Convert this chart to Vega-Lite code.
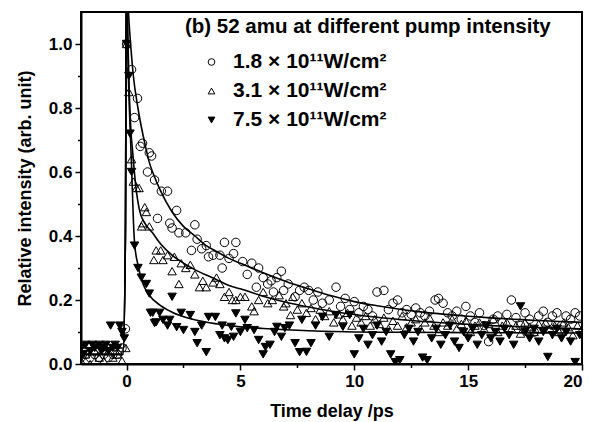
{
  "$schema": "https://vega.github.io/schema/vega-lite/v6.json",
  "width": 501,
  "height": 352,
  "autosize": {"type": "none"},
  "padding": {"left": 81, "top": 12, "right": 8, "bottom": 58},
  "background": "white",
  "config": {
    "view": {"stroke": "black", "strokeWidth": 2},
    "font": "Liberation Sans",
    "legend": {"orient": "none", "legendX": 104, "legendY": 5,
      "titleFont": "Liberation Sans", "titleFontSize": 20.5, "titleFontWeight": "bold", "titleColor": "black", "titleLimit": 600, "titlePadding": 14,
      "labelFont": "Liberation Sans", "labelFontSize": 21, "labelFontWeight": "bold", "labelColor": "black", "labelLimit": 500,
      "symbolSize": 45, "symbolStrokeWidth": 1, "symbolOffset": 16, "labelOffset": 11, "rowPadding": 7}
  },
  "datasets": {
    "pts": [
      {"s":"a","x":-2.0,"y":0.02},{"s":"a","x":-1.8,"y":0.03},{"s":"a","x":-1.6,"y":0.02},{"s":"a","x":-1.4,"y":0.03},{"s":"a","x":-1.2,"y":0.02},{"s":"a","x":-1.0,"y":0.03},{"s":"a","x":-0.8,"y":0.02},{"s":"a","x":-0.6,"y":0.03},{"s":"a","x":-0.4,"y":0.03},{"s":"a","x":-0.2,"y":0.05},{"s":"a","x":-0.05,"y":0.11},
      {"s":"a","x":0.0,"y":1.0},{"s":"a","x":0.22,"y":0.92},{"s":"a","x":0.35,"y":0.77},{"s":"a","x":0.48,"y":0.83},{"s":"a","x":0.6,"y":0.68},{"s":"a","x":0.7,"y":0.69},{"s":"a","x":0.92,"y":0.6},{"s":"a","x":1.0,"y":0.66},{"s":"a","x":1.1,"y":0.65},{"s":"a","x":1.23,"y":0.575},{"s":"a","x":1.36,"y":0.455},{"s":"a","x":1.53,"y":0.54},{"s":"a","x":1.8,"y":0.54},{"s":"a","x":1.9,"y":0.44},{"s":"a","x":2.0,"y":0.425},{"s":"a","x":2.2,"y":0.48},{"s":"a","x":2.3,"y":0.41},{"s":"a","x":2.6,"y":0.41},{"s":"a","x":2.85,"y":0.355},{"s":"a","x":3.0,"y":0.435},{"s":"a","x":3.1,"y":0.39},{"s":"a","x":3.3,"y":0.36},{"s":"a","x":3.5,"y":0.37},{"s":"a","x":3.6,"y":0.335},{"s":"a","x":3.8,"y":0.34},{"s":"a","x":4.1,"y":0.34},{"s":"a","x":4.2,"y":0.3},{"s":"a","x":4.3,"y":0.38},{"s":"a","x":4.5,"y":0.33},{"s":"a","x":4.7,"y":0.345},{"s":"a","x":4.8,"y":0.38},{"s":"a","x":5.1,"y":0.32},{"s":"a","x":5.3,"y":0.28},{"s":"a","x":5.5,"y":0.315},{"s":"a","x":5.7,"y":0.24},{"s":"a","x":5.8,"y":0.3},{"s":"a","x":6.0,"y":0.27},{"s":"a","x":6.2,"y":0.25},{"s":"a","x":6.35,"y":0.26},{"s":"a","x":6.45,"y":0.225},{"s":"a","x":6.6,"y":0.27},{"s":"a","x":6.8,"y":0.29},{"s":"a","x":6.9,"y":0.23},{"s":"a","x":7.1,"y":0.25},{"s":"a","x":7.4,"y":0.21},{"s":"a","x":7.6,"y":0.23},{"s":"a","x":7.8,"y":0.24},{"s":"a","x":8.0,"y":0.23},{"s":"a","x":8.2,"y":0.2},{"s":"a","x":8.4,"y":0.225},{"s":"a","x":8.6,"y":0.19},{"s":"a","x":8.9,"y":0.2},{"s":"a","x":9.2,"y":0.24},{"s":"a","x":9.4,"y":0.18},{"s":"a","x":9.6,"y":0.205},{"s":"a","x":9.8,"y":0.17},{"s":"a","x":10.0,"y":0.195},{"s":"a","x":10.2,"y":0.16},{"s":"a","x":10.4,"y":0.18},{"s":"a","x":10.6,"y":0.17},{"s":"a","x":10.8,"y":0.15},{"s":"a","x":11.0,"y":0.225},{"s":"a","x":11.3,"y":0.23},{"s":"a","x":11.5,"y":0.17},{"s":"a","x":11.7,"y":0.19},{"s":"a","x":11.9,"y":0.2},{"s":"a","x":12.1,"y":0.16},{"s":"a","x":12.3,"y":0.17},{"s":"a","x":12.5,"y":0.155},{"s":"a","x":12.7,"y":0.175},{"s":"a","x":12.9,"y":0.16},{"s":"a","x":13.1,"y":0.15},{"s":"a","x":13.3,"y":0.165},{"s":"a","x":13.55,"y":0.2},{"s":"a","x":13.7,"y":0.205},{"s":"a","x":13.9,"y":0.19},{"s":"a","x":14.1,"y":0.16},{"s":"a","x":14.3,"y":0.15},{"s":"a","x":14.5,"y":0.165},{"s":"a","x":14.7,"y":0.14},{"s":"a","x":14.9,"y":0.18},{"s":"a","x":15.1,"y":0.15},{"s":"a","x":15.3,"y":0.13},{"s":"a","x":15.5,"y":0.16},{"s":"a","x":15.7,"y":0.12},{"s":"a","x":15.9,"y":0.07},{"s":"a","x":16.1,"y":0.14},{"s":"a","x":16.3,"y":0.15},{"s":"a","x":16.5,"y":0.13},{"s":"a","x":16.7,"y":0.155},{"s":"a","x":16.9,"y":0.2},{"s":"a","x":17.1,"y":0.145},{"s":"a","x":17.3,"y":0.12},{"s":"a","x":17.5,"y":0.16},{"s":"a","x":17.7,"y":0.14},{"s":"a","x":17.9,"y":0.1},{"s":"a","x":18.1,"y":0.15},{"s":"a","x":18.3,"y":0.165},{"s":"a","x":18.5,"y":0.13},{"s":"a","x":18.7,"y":0.15},{"s":"a","x":18.9,"y":0.16},{"s":"a","x":19.1,"y":0.12},{"s":"a","x":19.3,"y":0.15},{"s":"a","x":19.5,"y":0.14},{"s":"a","x":19.7,"y":0.16},{"s":"a","x":19.9,"y":0.15},
      {"s":"b","x":-2.0,"y":0.01},{"s":"b","x":-1.8,"y":0.03},{"s":"b","x":-1.6,"y":0.0},{"s":"b","x":-1.4,"y":0.04},{"s":"b","x":-1.2,"y":0.02},{"s":"b","x":-1.0,"y":0.01},{"s":"b","x":-0.8,"y":0.04},{"s":"b","x":-0.6,"y":0.02},{"s":"b","x":-0.4,"y":0.03},{"s":"b","x":-0.2,"y":0.01},{"s":"b","x":-0.03,"y":0.05},
      {"s":"b","x":0.0,"y":1.0},{"s":"b","x":0.1,"y":0.85},{"s":"b","x":0.22,"y":0.64},{"s":"b","x":0.3,"y":0.57},{"s":"b","x":0.44,"y":0.55},{"s":"b","x":0.55,"y":0.55},{"s":"b","x":0.66,"y":0.43},{"s":"b","x":0.72,"y":0.44},{"s":"b","x":0.8,"y":0.49},{"s":"b","x":0.87,"y":0.475},{"s":"b","x":1.0,"y":0.43},{"s":"b","x":1.2,"y":0.325},{"s":"b","x":1.3,"y":0.355},{"s":"b","x":1.5,"y":0.355},{"s":"b","x":1.6,"y":0.325},{"s":"b","x":1.8,"y":0.34},{"s":"b","x":2.0,"y":0.29},{"s":"b","x":2.1,"y":0.335},{"s":"b","x":2.3,"y":0.25},{"s":"b","x":2.4,"y":0.315},{"s":"b","x":2.6,"y":0.3},{"s":"b","x":2.8,"y":0.31},{"s":"b","x":3.0,"y":0.28},{"s":"b","x":3.2,"y":0.24},{"s":"b","x":3.35,"y":0.26},{"s":"b","x":3.5,"y":0.24},{"s":"b","x":3.8,"y":0.255},{"s":"b","x":3.95,"y":0.27},{"s":"b","x":4.1,"y":0.25},{"s":"b","x":4.3,"y":0.21},{"s":"b","x":4.5,"y":0.225},{"s":"b","x":4.65,"y":0.2},{"s":"b","x":4.8,"y":0.2},{"s":"b","x":5.0,"y":0.21},{"s":"b","x":5.2,"y":0.21},{"s":"b","x":5.5,"y":0.18},{"s":"b","x":5.6,"y":0.165},{"s":"b","x":5.8,"y":0.2},{"s":"b","x":6.0,"y":0.225},{"s":"b","x":6.2,"y":0.19},{"s":"b","x":6.4,"y":0.2},{"s":"b","x":6.7,"y":0.215},{"s":"b","x":6.9,"y":0.18},{"s":"b","x":7.0,"y":0.19},{"s":"b","x":7.2,"y":0.153},{"s":"b","x":7.3,"y":0.21},{"s":"b","x":7.5,"y":0.17},{"s":"b","x":7.7,"y":0.19},{"s":"b","x":7.9,"y":0.16},{"s":"b","x":8.1,"y":0.175},{"s":"b","x":8.3,"y":0.14},{"s":"b","x":8.5,"y":0.17},{"s":"b","x":8.7,"y":0.15},{"s":"b","x":8.9,"y":0.165},{"s":"b","x":9.1,"y":0.13},{"s":"b","x":9.3,"y":0.155},{"s":"b","x":9.5,"y":0.14},{"s":"b","x":9.7,"y":0.16},{"s":"b","x":9.9,"y":0.12},{"s":"b","x":10.1,"y":0.145},{"s":"b","x":10.3,"y":0.13},{"s":"b","x":10.5,"y":0.15},{"s":"b","x":10.7,"y":0.12},{"s":"b","x":10.9,"y":0.14},{"s":"b","x":11.1,"y":0.125},{"s":"b","x":11.3,"y":0.145},{"s":"b","x":11.5,"y":0.11},{"s":"b","x":11.7,"y":0.135},{"s":"b","x":11.9,"y":0.12},{"s":"b","x":12.1,"y":0.15},{"s":"b","x":12.3,"y":0.115},{"s":"b","x":12.5,"y":0.13},{"s":"b","x":12.7,"y":0.14},{"s":"b","x":12.9,"y":0.11},{"s":"b","x":13.1,"y":0.13},{"s":"b","x":13.3,"y":0.145},{"s":"b","x":13.5,"y":0.12},{"s":"b","x":13.7,"y":0.1},{"s":"b","x":13.9,"y":0.13},{"s":"b","x":14.1,"y":0.12},{"s":"b","x":14.3,"y":0.14},{"s":"b","x":14.5,"y":0.11},{"s":"b","x":14.7,"y":0.125},{"s":"b","x":14.9,"y":0.135},{"s":"b","x":15.1,"y":0.1},{"s":"b","x":15.3,"y":0.12},{"s":"b","x":15.5,"y":0.13},{"s":"b","x":15.7,"y":0.11},{"s":"b","x":15.9,"y":0.125},{"s":"b","x":16.1,"y":0.14},{"s":"b","x":16.3,"y":0.1},{"s":"b","x":16.5,"y":0.12},{"s":"b","x":16.7,"y":0.13},{"s":"b","x":16.9,"y":0.11},{"s":"b","x":17.1,"y":0.12},{"s":"b","x":17.3,"y":0.095},{"s":"b","x":17.5,"y":0.13},{"s":"b","x":17.7,"y":0.115},{"s":"b","x":17.9,"y":0.1},{"s":"b","x":18.1,"y":0.125},{"s":"b","x":18.4,"y":0.13},{"s":"b","x":18.6,"y":0.11},{"s":"b","x":18.8,"y":0.12},{"s":"b","x":19.0,"y":0.1},{"s":"b","x":19.2,"y":0.13},{"s":"b","x":19.4,"y":0.115},{"s":"b","x":19.6,"y":0.09},{"s":"b","x":19.8,"y":0.12},{"s":"b","x":20.0,"y":0.11},
      {"s":"c","x":-2.0,"y":0.05},{"s":"c","x":-1.9,"y":0.03},{"s":"c","x":-1.8,"y":0.06},{"s":"c","x":-1.6,"y":0.04},{"s":"c","x":-1.5,"y":0.06},{"s":"c","x":-1.4,"y":0.05},{"s":"c","x":-1.2,"y":0.06},{"s":"c","x":-1.1,"y":0.04},{"s":"c","x":-1.0,"y":0.05},{"s":"c","x":-0.9,"y":0.06},{"s":"c","x":-0.8,"y":0.04},{"s":"c","x":-0.7,"y":0.12},{"s":"c","x":-0.6,"y":0.05},{"s":"c","x":-0.5,"y":0.06},{"s":"c","x":-0.4,"y":0.05},{"s":"c","x":-0.3,"y":0.12},{"s":"c","x":-0.2,"y":0.1},{"s":"c","x":-0.1,"y":0.08},
      {"s":"c","x":0.0,"y":1.0},{"s":"c","x":0.1,"y":0.9},{"s":"c","x":0.15,"y":0.72},{"s":"c","x":0.22,"y":0.6},{"s":"c","x":0.35,"y":0.37},{"s":"c","x":0.5,"y":0.3},{"s":"c","x":0.65,"y":0.27},{"s":"c","x":0.87,"y":0.25},{"s":"c","x":1.0,"y":0.22},{"s":"c","x":1.05,"y":0.16},{"s":"c","x":1.15,"y":0.16},{"s":"c","x":1.23,"y":0.128},{"s":"c","x":1.3,"y":0.13},{"s":"c","x":1.45,"y":0.16},{"s":"c","x":1.6,"y":0.138},{"s":"c","x":1.8,"y":0.12},{"s":"c","x":1.9,"y":0.138},{"s":"c","x":2.0,"y":0.21},{"s":"c","x":2.2,"y":0.115},{"s":"c","x":2.4,"y":0.16},{"s":"c","x":2.5,"y":0.106},{"s":"c","x":2.8,"y":0.153},{"s":"c","x":3.0,"y":0.1},{"s":"c","x":3.1,"y":0.065},{"s":"c","x":3.3,"y":0.12},{"s":"c","x":3.5,"y":0.037},{"s":"c","x":3.6,"y":0.147},{"s":"c","x":3.9,"y":0.147},{"s":"c","x":4.1,"y":0.09},{"s":"c","x":4.2,"y":0.12},{"s":"c","x":4.3,"y":0.08},{"s":"c","x":4.45,"y":0.075},{"s":"c","x":4.6,"y":0.116},{"s":"c","x":4.7,"y":0.085},{"s":"c","x":4.8,"y":0.158},{"s":"c","x":5.0,"y":0.1},{"s":"c","x":5.2,"y":0.138},{"s":"c","x":5.3,"y":0.112},{"s":"c","x":5.6,"y":0.106},{"s":"c","x":5.8,"y":0.075},{"s":"c","x":6.0,"y":0.03},{"s":"c","x":6.1,"y":0.053},{"s":"c","x":6.3,"y":0.06},{"s":"c","x":6.5,"y":0.1},{"s":"c","x":6.6,"y":0.116},{"s":"c","x":6.8,"y":0.085},{"s":"c","x":6.95,"y":0.112},{"s":"c","x":7.15,"y":0.12},{"s":"c","x":7.4,"y":0.065},{"s":"c","x":7.6,"y":0.037},{"s":"c","x":7.7,"y":0.138},{"s":"c","x":7.9,"y":0.038},{"s":"c","x":8.1,"y":0.065},{"s":"c","x":8.3,"y":0.12},{"s":"c","x":8.6,"y":0.147},{"s":"c","x":8.9,"y":0.085},{"s":"c","x":9.2,"y":0.153},{"s":"c","x":9.5,"y":0.116},{"s":"c","x":9.8,"y":0.153},{"s":"c","x":10.0,"y":0.03},{"s":"c","x":10.2,"y":0.08},{"s":"c","x":10.4,"y":0.11},{"s":"c","x":10.6,"y":0.06},{"s":"c","x":10.8,"y":0.09},{"s":"c","x":11.0,"y":0.12},{"s":"c","x":11.2,"y":0.07},{"s":"c","x":11.4,"y":0.1},{"s":"c","x":11.6,"y":0.03},{"s":"c","x":11.8,"y":0.006},{"s":"c","x":12.0,"y":0.012},{"s":"c","x":12.2,"y":0.09},{"s":"c","x":12.4,"y":0.11},{"s":"c","x":12.6,"y":0.07},{"s":"c","x":12.8,"y":0.1},{"s":"c","x":13.0,"y":0.02},{"s":"c","x":13.2,"y":0.012},{"s":"c","x":13.4,"y":0.08},{"s":"c","x":13.6,"y":0.11},{"s":"c","x":13.8,"y":0.06},{"s":"c","x":14.0,"y":0.09},{"s":"c","x":14.2,"y":0.12},{"s":"c","x":14.4,"y":0.07},{"s":"c","x":14.6,"y":0.05},{"s":"c","x":14.8,"y":0.1},{"s":"c","x":15.0,"y":0.08},{"s":"c","x":15.2,"y":0.11},{"s":"c","x":15.4,"y":0.06},{"s":"c","x":15.6,"y":0.09},{"s":"c","x":15.8,"y":0.12},{"s":"c","x":16.0,"y":0.08},{"s":"c","x":16.2,"y":0.1},{"s":"c","x":16.4,"y":0.07},{"s":"c","x":16.6,"y":0.11},{"s":"c","x":16.8,"y":0.09},{"s":"c","x":17.0,"y":0.06},{"s":"c","x":17.3,"y":0.18},{"s":"c","x":17.5,"y":0.1},{"s":"c","x":17.7,"y":0.08},{"s":"c","x":17.9,"y":0.11},{"s":"c","x":18.1,"y":0.07},{"s":"c","x":18.3,"y":0.1},{"s":"c","x":18.5,"y":0.022},{"s":"c","x":18.7,"y":0.09},{"s":"c","x":18.9,"y":0.11},{"s":"c","x":19.1,"y":0.08},{"s":"c","x":19.3,"y":0.1},{"s":"c","x":19.5,"y":0.07},{"s":"c","x":19.7,"y":0.006},{"s":"c","x":19.9,"y":0.09}
    ],
    "fit": [
      {"s":"a","x":-2.0,"y":0.03},{"s":"a","x":-0.15,"y":0.03},{"s":"a","x":-0.05,"y":0.4},{"s":"a","x":0.0,"y":1.3},{"s":"a","x":0.05,"y":1.15},{"s":"a","x":0.1,"y":1.08},{"s":"a","x":0.2,"y":0.98},{"s":"a","x":0.3,"y":0.9},{"s":"a","x":0.5,"y":0.8},{"s":"a","x":0.8,"y":0.69},{"s":"a","x":1.0,"y":0.63},{"s":"a","x":1.2,"y":0.59},{"s":"a","x":1.5,"y":0.54},{"s":"a","x":2.0,"y":0.475},{"s":"a","x":2.5,"y":0.43},{"s":"a","x":3.0,"y":0.4},{"s":"a","x":3.5,"y":0.37},{"s":"a","x":4.0,"y":0.35},{"s":"a","x":4.5,"y":0.33},{"s":"a","x":5.0,"y":0.315},{"s":"a","x":6.0,"y":0.285},{"s":"a","x":7.0,"y":0.258},{"s":"a","x":8.0,"y":0.235},{"s":"a","x":9.0,"y":0.213},{"s":"a","x":10.0,"y":0.195},{"s":"a","x":11.0,"y":0.182},{"s":"a","x":12.0,"y":0.171},{"s":"a","x":13.0,"y":0.162},{"s":"a","x":14.0,"y":0.155},{"s":"a","x":15.0,"y":0.149},{"s":"a","x":16.0,"y":0.144},{"s":"a","x":17.0,"y":0.14},{"s":"a","x":18.0,"y":0.136},{"s":"a","x":19.0,"y":0.133},{"s":"a","x":20.0,"y":0.13},
      {"s":"b","x":-2.0,"y":0.03},{"s":"b","x":-0.15,"y":0.03},{"s":"b","x":-0.05,"y":0.4},{"s":"b","x":0.0,"y":1.3},{"s":"b","x":0.05,"y":1.05},{"s":"b","x":0.1,"y":0.9},{"s":"b","x":0.2,"y":0.72},{"s":"b","x":0.26,"y":0.67},{"s":"b","x":0.4,"y":0.56},{"s":"b","x":0.57,"y":0.48},{"s":"b","x":0.8,"y":0.44},{"s":"b","x":1.14,"y":0.41},{"s":"b","x":1.5,"y":0.375},{"s":"b","x":2.0,"y":0.34},{"s":"b","x":2.5,"y":0.315},{"s":"b","x":3.0,"y":0.295},{"s":"b","x":3.5,"y":0.278},{"s":"b","x":4.0,"y":0.262},{"s":"b","x":4.5,"y":0.245},{"s":"b","x":5.0,"y":0.235},{"s":"b","x":6.0,"y":0.212},{"s":"b","x":7.0,"y":0.193},{"s":"b","x":8.0,"y":0.178},{"s":"b","x":9.0,"y":0.165},{"s":"b","x":10.0,"y":0.155},{"s":"b","x":11.0,"y":0.146},{"s":"b","x":12.0,"y":0.139},{"s":"b","x":13.0,"y":0.133},{"s":"b","x":14.0,"y":0.128},{"s":"b","x":15.0,"y":0.124},{"s":"b","x":16.0,"y":0.12},{"s":"b","x":17.0,"y":0.117},{"s":"b","x":18.0,"y":0.114},{"s":"b","x":19.0,"y":0.112},{"s":"b","x":20.0,"y":0.11},
      {"s":"c","x":-2.0,"y":0.05},{"s":"c","x":-0.15,"y":0.05},{"s":"c","x":-0.05,"y":0.4},{"s":"c","x":0.0,"y":1.3},{"s":"c","x":0.05,"y":1.0},{"s":"c","x":0.1,"y":0.85},{"s":"c","x":0.15,"y":0.75},{"s":"c","x":0.22,"y":0.62},{"s":"c","x":0.3,"y":0.45},{"s":"c","x":0.35,"y":0.38},{"s":"c","x":0.5,"y":0.31},{"s":"c","x":0.7,"y":0.255},{"s":"c","x":1.0,"y":0.215},{"s":"c","x":1.45,"y":0.185},{"s":"c","x":2.0,"y":0.162},{"s":"c","x":2.9,"y":0.14},{"s":"c","x":4.0,"y":0.125},{"s":"c","x":5.0,"y":0.116},{"s":"c","x":6.0,"y":0.111},{"s":"c","x":7.0,"y":0.107},{"s":"c","x":8.0,"y":0.104},{"s":"c","x":10.0,"y":0.1},{"s":"c","x":12.0,"y":0.099},{"s":"c","x":15.0,"y":0.098},{"s":"c","x":20.0,"y":0.097}
    ]
  },
  "layer": [
    {
      "data": {"name": "pts"},
      "mark": {"type": "point", "filled": true, "strokeWidth": 1, "size": 72, "opacity": 1, "clip": true},
      "encoding": {
        "x": {
          "field": "x", "type": "quantitative",
          "scale": {"domain": [-2, 20], "nice": false, "zero": false},
          "axis": {"orient": "bottom", "values": [0, 5, 10, 15, 20], "grid": false, "title": "Time delay /ps",
            "titleFont": "Liberation Sans", "titleFontSize": 18, "titleFontWeight": "bold", "titleColor": "black", "titlePadding": 13,
            "labelFont": "Liberation Sans", "labelFontSize": 17, "labelFontWeight": "bold", "labelColor": "black", "labelPadding": 3,
            "tickSize": 6, "tickWidth": 1.5, "tickColor": "black", "domainColor": "black", "domainWidth": 2}
        },
        "y": {
          "field": "y", "type": "quantitative",
          "scale": {"domain": [0, 1.1], "nice": false, "zero": false},
          "axis": {"orient": "left", "values": [0, 0.2, 0.4, 0.6, 0.8, 1.0], "format": ".1f", "grid": false, "title": "Relative intensity (arb. unit)",
            "titleFont": "Liberation Sans", "titleFontSize": 18, "titleFontWeight": "bold", "titleColor": "black", "titlePadding": 14,
            "labelFont": "Liberation Sans", "labelFontSize": 17, "labelFontWeight": "bold", "labelColor": "black", "labelPadding": 3,
            "tickSize": 6, "tickWidth": 1.5, "tickColor": "black", "domainColor": "black", "domainWidth": 2}
        },
        "shape": {
          "field": "s", "type": "nominal",
          "scale": {"domain": ["a", "b", "c"], "range": ["circle", "triangle-up", "triangle-down"]},
          "legend": {"title": "(b) 52 amu at different pump intensity",
            "labelExpr": "datum.label == 'a' ? '1.8 × 10¹¹W/cm²' : datum.label == 'b' ? '3.1 × 10¹¹W/cm²' : '7.5 × 10¹¹W/cm²'"}
        },
        "fill": {
          "field": "s", "type": "nominal",
          "scale": {"domain": ["a", "b", "c"], "range": ["transparent", "transparent", "black"]},
          "legend": {"title": "(b) 52 amu at different pump intensity",
            "labelExpr": "datum.label == 'a' ? '1.8 × 10¹¹W/cm²' : datum.label == 'b' ? '3.1 × 10¹¹W/cm²' : '7.5 × 10¹¹W/cm²'"}
        },
        "stroke": {
          "field": "s", "type": "nominal",
          "scale": {"domain": ["a", "b", "c"], "range": ["black", "black", "black"]},
          "legend": {"title": "(b) 52 amu at different pump intensity",
            "labelExpr": "datum.label == 'a' ? '1.8 × 10¹¹W/cm²' : datum.label == 'b' ? '3.1 × 10¹¹W/cm²' : '7.5 × 10¹¹W/cm²'"}
        }
      }
    },
    {
      "data": {"name": "fit"},
      "mark": {"type": "line", "color": "black", "strokeWidth": 1.6, "clip": true, "interpolate": "monotone"},
      "encoding": {
        "x": {
          "field": "x", "type": "quantitative",
          "axis": {"orient": "bottom", "values": [2.5, 7.5, 12.5, 17.5], "labels": false, "domain": false, "grid": false, "title": null,
            "tickSize": 3.5, "tickWidth": 1.5, "tickColor": "black"}
        },
        "y": {
          "field": "y", "type": "quantitative",
          "axis": {"orient": "left", "values": [0.1, 0.3, 0.5, 0.7, 0.9], "labels": false, "domain": false, "grid": false, "title": null,
            "tickSize": 3.5, "tickWidth": 1.5, "tickColor": "black"}
        },
        "detail": {"field": "s", "type": "nominal"}
      }
    }
  ],
  "resolve": {"axis": {"x": "independent", "y": "independent"}}
}
